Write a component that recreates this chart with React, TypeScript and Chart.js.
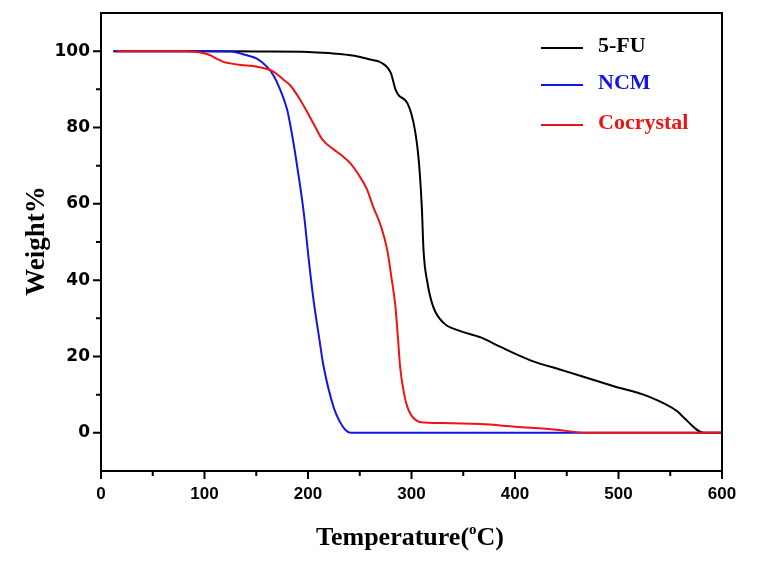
import React, { useEffect, useRef } from "react";
import { Chart, registerables } from "chart.js";

Chart.register(...registerables);

// 5-FU
const fuT = [12, 100, 150, 200, 220, 245, 260, 270, 280, 284.5, 287.5, 296, 302, 306, 308, 310, 311.6, 315.5, 321, 331, 344.5, 367, 386, 415, 447, 495.5, 528, 557, 563, 582.6, 600];
const fuW = [100, 100, 99.9, 99.8, 99.5, 98.8, 97.8, 97.1, 94.3, 90, 88.5, 86.4, 81.2, 74.1, 68, 59, 47.9, 39.2, 33, 28.8, 26.9, 25.0, 22.5, 19.0, 16.3, 12.2, 9.6, 5.6, 4.0, 0, 0];
// NCM
const ncmT = [12, 100, 125, 140, 151, 160, 167, 173, 180, 185, 190, 196, 200.5, 205, 211, 215, 225, 231, 236, 241, 600];
const ncmW = [100, 100, 99.9, 99, 98, 96, 93.5, 90, 84.5, 77.5, 69, 57.5, 46, 35.5, 24.5, 17.5, 6.5, 2.8, 0.8, 0, 0];
// Cocrystal
const coT = [15, 80, 95, 105, 112, 118, 125, 135, 151, 167, 176, 183, 193, 205, 214, 225, 233, 241, 248, 257, 263, 270, 276.5, 281, 284.5, 287, 289, 293, 296, 300, 309, 330, 367, 400, 440, 470, 600];
const coW = [100, 100, 99.7, 99, 98, 97.2, 96.8, 96.4, 95.9, 94.6, 92.6, 91, 87, 81.2, 76.8, 74.2, 72.6, 70.6, 68, 63.8, 59.2, 54.5, 48, 40, 33, 24.5, 17.3, 10, 6.8, 4.5, 2.8, 2.6, 2.3, 1.6, 0.8, 0, 0];

const xTicks = [0, 100, 200, 300, 400, 500, 600];
const yTicks = [0, 20, 40, 60, 80, 100];
const xMinor = [50, 150, 250, 350, 450, 550];
const yMinor = [10, 30, 50, 70, 90];

const seriesNames = ["5-FU", "NCM", "Cocrystal"];
const seriesColors = ["#000000", "#1414e6", "#ee1414"];

const pts = (t: number[], w: number[]) => t.map((x, i) => ({ x, y: w[i] }));

const decorPlugin = {
  id: "decor",
  afterDatasetsDraw(chart: any) {
    const ctx = chart.ctx;
    const a = chart.chartArea;
    const xs = chart.scales.x;
    const ys = chart.scales.y;
    ctx.save();
    ctx.strokeStyle = "#000";
    ctx.lineWidth = 2;
    ctx.strokeRect(a.left, a.top, a.right - a.left, a.bottom - a.top);
    ctx.beginPath();
    xTicks.forEach((v) => {
      const p = xs.getPixelForValue(v);
      ctx.moveTo(p, a.bottom);
      ctx.lineTo(p, a.bottom + 8);
    });
    xMinor.forEach((v) => {
      const p = xs.getPixelForValue(v);
      ctx.moveTo(p, a.bottom);
      ctx.lineTo(p, a.bottom + 5);
    });
    yTicks.forEach((v) => {
      const p = ys.getPixelForValue(v);
      ctx.moveTo(a.left, p);
      ctx.lineTo(a.left - 8, p);
    });
    yMinor.forEach((v) => {
      const p = ys.getPixelForValue(v);
      ctx.moveTo(a.left, p);
      ctx.lineTo(a.left - 5, p);
    });
    ctx.stroke();

    // legend
    const lx0 = 541, lx1 = 583, tx = 598;
    const ly = [48, 85, 125];
    ctx.font = "bold 22px 'Liberation Serif', 'Times New Roman', serif";
    ctx.textBaseline = "middle";
    ctx.textAlign = "left";
    seriesNames.forEach((n, i) => {
      ctx.strokeStyle = seriesColors[i];
      ctx.lineWidth = 2;
      ctx.beginPath();
      ctx.moveTo(lx0, ly[i]);
      ctx.lineTo(lx1, ly[i]);
      ctx.stroke();
      ctx.fillStyle = seriesColors[i];
      ctx.fillText(n, tx, ly[i] - 2);
    });

    // axis titles
    ctx.fillStyle = "#000";
    ctx.font = "bold 27px 'Liberation Serif', 'Times New Roman', serif";
    ctx.textBaseline = "alphabetic";
    ctx.save();
    ctx.translate(44, 241);
    ctx.rotate(-Math.PI / 2);
    ctx.textAlign = "center";
    ctx.fillText("Weight%", 0, 0);
    ctx.restore();

    const s1 = "Temperature(";
    const s2 = "o";
    const s3 = "C)";
    const bigFont = "bold 26px 'Liberation Serif', 'Times New Roman', serif";
    const smallFont = "bold 15px 'Liberation Serif', 'Times New Roman', serif";
    ctx.font = bigFont;
    const w1 = ctx.measureText(s1).width;
    const w3 = ctx.measureText(s3).width;
    ctx.font = smallFont;
    const w2 = ctx.measureText(s2).width;
    const cx = 410;
    const base = 545;
    let x = cx - (w1 + w2 + w3) / 2;
    ctx.textAlign = "left";
    ctx.font = bigFont;
    ctx.fillText(s1, x, base);
    x += w1;
    ctx.font = smallFont;
    ctx.fillText(s2, x, base - 11);
    x += w2;
    ctx.font = bigFont;
    ctx.fillText(s3, x, base);
    ctx.restore();
  },
};

export default function App() {
  const ref = useRef<HTMLCanvasElement | null>(null);
  useEffect(() => {
    if (!ref.current) return;
    const mk = (i: number, data: { x: number; y: number }[]) => ({
      label: seriesNames[i],
      data,
      borderColor: seriesColors[i],
      backgroundColor: seriesColors[i],
      borderWidth: 2,
      pointRadius: 0,
      cubicInterpolationMode: "monotone" as const,
      fill: false,
    });
    const chart = new Chart(ref.current, {
      type: "line",
      data: {
        datasets: [
          { ...mk(2, pts(coT, coW)), order: 0 },
          { ...mk(1, pts(ncmT, ncmW)), order: 1 },
          { ...mk(0, pts(fuT, fuW)), order: 2 },
        ],
      },
      options: {
        animation: false,
        responsive: false,
        devicePixelRatio: 1,
        layout: { padding: { left: 0, top: 13, right: 49, bottom: 0 } },
        plugins: { legend: { display: false }, tooltip: { enabled: false } },
        scales: {
          x: {
            type: "linear",
            min: 0,
            max: 600,
            grid: { display: false, drawTicks: false },
            border: { display: false },
            afterBuildTicks: (s: any) => {
              s.ticks = xTicks.map((v) => ({ value: v }));
            },
            afterFit: (s: any) => {
              s.height = 98;
              s.paddingLeft = 0;
              s.paddingRight = 0;
              s.paddingTop = 0;
              s.paddingBottom = 0;
            },
            ticks: {
              padding: 13,
              color: "#000",
              maxRotation: 0,
              font: { family: "'Liberation Sans', Arial, sans-serif", size: 17, weight: "bold" },
            },
          },
          y: {
            type: "linear",
            min: -10,
            max: 110,
            grid: { display: false, drawTicks: false },
            border: { display: false },
            afterBuildTicks: (s: any) => {
              s.ticks = yTicks.map((v) => ({ value: v }));
            },
            afterFit: (s: any) => {
              s.width = 101;
              s.paddingLeft = 0;
              s.paddingRight = 0;
              s.paddingTop = 0;
              s.paddingBottom = 0;
            },
            ticks: {
              padding: 11,
              color: "#000",
              font: { family: "'DejaVu Sans', sans-serif", size: 17, weight: "bold" },
            },
          },
        },
      },
      plugins: [decorPlugin],
    });
    return () => chart.destroy();
  }, []);
  return (
    <div style={{ position: "absolute", left: 0, top: 0, width: 771, height: 569, background: "#fff" }}>
      <canvas ref={ref} width={771} height={569} style={{ width: 771, height: 569 }} />
    </div>
  );
}
